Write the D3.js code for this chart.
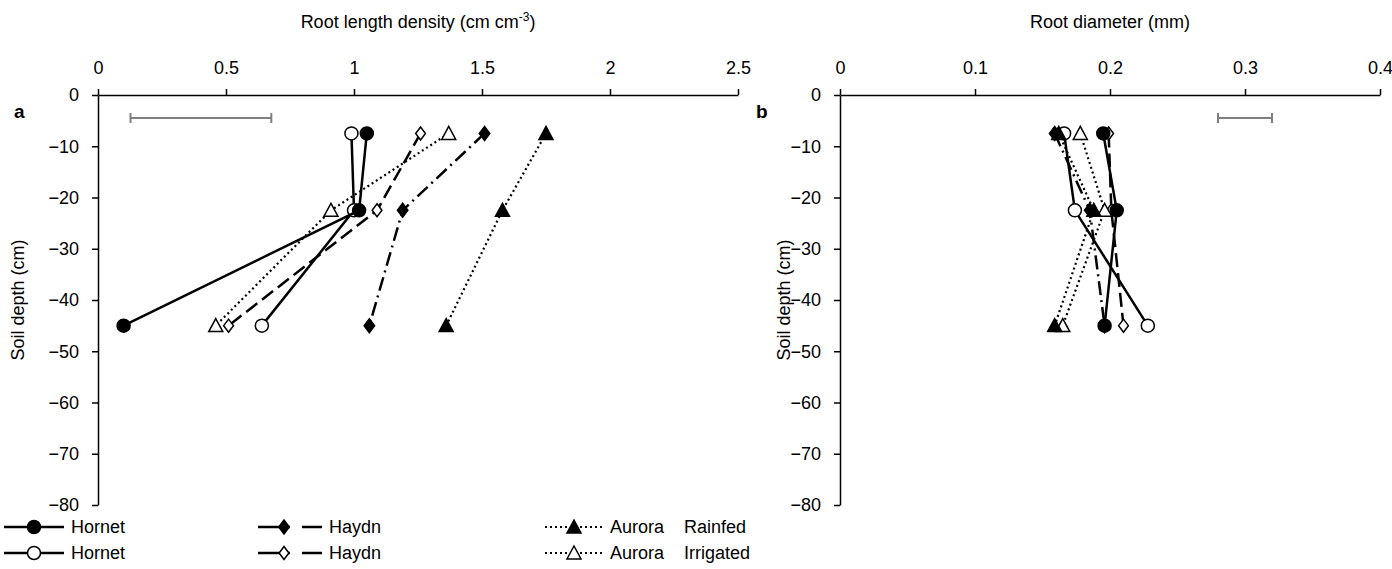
<!DOCTYPE html>
<html>
<head>
<meta charset="utf-8">
<script src="https://cdn.jsdelivr.net/npm/d3@7"></script>
<style>
  body { margin: 0; background: #fff; }
  svg { font-family: "Liberation Sans", Arial, sans-serif; }
  .tick text { font-size: 18px; fill: #000; }
  .domain, .tick line { stroke: #000; stroke-width: 1.5; }
</style>
</head>
<body>
<script>
// soil depth of each sampling layer (cm)
var depths = [-7.5, -22.5, -45];

// root length density, cm cm-3
var rldHornetRainfed    = [1.05, 1.02, 0.10];
var rldHornetIrrigated  = [0.99, 1.00, 0.64];
var rldHaydnRainfed     = [1.51, 1.19, 1.06];
var rldHaydnIrrigated   = [1.26, 1.09, 0.51];
var rldAuroraRainfed    = [1.75, 1.58, 1.36];
var rldAuroraIrrigated  = [1.37, 0.91, 0.46];

// root diameter, mm
var diamHornetRainfed   = [0.195, 0.205, 0.196];
var diamHornetIrrigated = [0.166, 0.174, 0.228];
var diamHaydnRainfed    = [0.159, 0.185, 0.196];
var diamHaydnIrrigated  = [0.199, 0.201, 0.210];
var diamAuroraRainfed   = [0.162, 0.188, 0.159];
var diamAuroraIrrigated = [0.178, 0.196, 0.165];

// LSD bars (from, to) and their depth
var rldLsd = [0.127, 0.677];
var diamLsd = [0.28, 0.32];
var lsdDepth = -4.5;

var rldTicks = [0, 0.5, 1, 1.5, 2, 2.5];
var diamTicks = [0, 0.1, 0.2, 0.3, 0.4];
var depthTicks = [0, -10, -20, -30, -40, -50, -60, -70, -80];

var W = 1392, H = 569;
var svg = d3.select("body").append("svg").attr("width", W).attr("height", H);

var y = d3.scaleLinear().domain([0, -80]).range([95, 505]);
var xA = d3.scaleLinear().domain([0, 2.5]).range([98, 738]);
var xB = d3.scaleLinear().domain([0, 0.4]).range([840, 1380]);

// line style per cultivar
var styles = {
  Hornet: { dash: null, width: 2.5, shape: "circle" },
  HaydnR: { dash: "14,5,2,5", width: 2.5, shape: "diamond" },
  HaydnI: { dash: "14,6", width: 2.5, shape: "diamond" },
  Aurora: { dash: "2,3", width: 2.2, shape: "triangle" }
};

function marker(g, shape, filled, cx, cy) {
  var fill = filled ? "#000" : "#fff";
  if (shape == "circle") {
    g.append("circle").attr("cx", cx).attr("cy", cy).attr("r", 6.5)
      .attr("fill", fill).attr("stroke", "#000").attr("stroke-width", 1.5);
  } else if (shape == "diamond") {
    var s = filled ? 7 : 6.5;
    g.append("path").attr("d", "M"+cx+","+(cy-s)+"L"+(cx+s*0.75)+","+cy+"L"+cx+","+(cy+s)+"L"+(cx-s*0.75)+","+cy+"Z")
      .attr("fill", fill).attr("stroke", "#000").attr("stroke-width", 1.5);
  } else {
    var t = 7;
    g.append("path").attr("d", "M"+cx+","+(cy-t)+"L"+(cx+t)+","+(cy+t*0.85)+"L"+(cx-t)+","+(cy+t*0.85)+"Z")
      .attr("fill", fill).attr("stroke", "#000").attr("stroke-width", 1.5);
  }
}

function series(g, x, vals, st, filled) {
  var pts = vals.map(function(v, i) { return [x(v), y(depths[i])]; });
  g.append("path").attr("d", d3.line()(pts))
    .attr("fill", "none").attr("stroke", "#000")
    .attr("stroke-width", st.width)
    .attr("stroke-dasharray", st.dash);
  pts.forEach(function(p) { marker(g, st.shape, filled, p[0], p[1]); });
}

function panel(x, ticks, title, letter, labelOff, data, lsd) {
  var g = svg.append("g");
  g.append("g").attr("transform", "translate(0," + y(0) + ")")
    .call(d3.axisTop(x).tickValues(ticks).tickSize(6).tickSizeOuter(0).tickPadding(15).tickFormat(d3.format("")));
  g.append("g").attr("transform", "translate(" + x(0) + ",0)")
    .call(d3.axisLeft(y).tickValues(depthTicks).tickSize(6).tickSizeOuter(0).tickPadding(13).tickFormat(d3.format("")));

  var mid = (x.range()[0] + x.range()[1]) / 2;
  g.append("g").html(title).attr("transform", "translate(" + mid + ",28)");
  g.append("text").attr("x", x(0) - 84).attr("y", 118)
    .attr("font-weight", "bold").attr("font-size", 19).text(letter);
  g.append("text").attr("transform", "translate(" + (x(0) - labelOff) + "," + y(-40) + ") rotate(-90)")
    .attr("text-anchor", "middle").attr("font-size", 18).text("Soil depth (cm)");

  // LSD bar
  var ly = y(lsdDepth);
  g.append("path")
    .attr("d", "M" + x(lsd[0]) + "," + (ly-5) + "V" + (ly+5) + "M" + x(lsd[0]) + "," + ly + "H" + x(lsd[1]) + "M" + x(lsd[1]) + "," + (ly-5) + "V" + (ly+5))
    .attr("stroke", "#7f7f7f").attr("stroke-width", 2).attr("fill", "none");

  // irrigated drawn first so rainfed markers sit on top
  series(g, x, data[1], styles.Hornet, false);
  series(g, x, data[3], styles.HaydnI, false);
  series(g, x, data[5], styles.Aurora, false);
  series(g, x, data[0], styles.Hornet, true);
  series(g, x, data[2], styles.HaydnR, true);
  series(g, x, data[4], styles.Aurora, true);
}

panel(xA, rldTicks,
  '<text text-anchor="middle" font-size="18">Root length density (cm cm<tspan dy="-7" font-size="12">-3</tspan><tspan dy="7">)</tspan></text>',
  "a", 74,
  [rldHornetRainfed, rldHornetIrrigated, rldHaydnRainfed, rldHaydnIrrigated, rldAuroraRainfed, rldAuroraIrrigated],
  rldLsd);

panel(xB, diamTicks,
  '<text text-anchor="middle" font-size="18">Root diameter (mm)</text>',
  "b", 50,
  [diamHornetRainfed, diamHornetIrrigated, diamHaydnRainfed, diamHaydnIrrigated, diamAuroraRainfed, diamAuroraIrrigated],
  diamLsd);

// legend
var cultivars = ["Hornet", "Haydn", "Aurora"];
var treatments = ["Rainfed", "Irrigated"];
var legStyles = [styles.Hornet, { dash: "32,12,20", width: 2.5, shape: "diamond" }, styles.Aurora];
var legX = [4, 258, 545];
var legLen = [60, 64, 58];
var legY = [527, 553];
var leg = svg.append("g");
treatments.forEach(function(t, r) {
  cultivars.forEach(function(c, i) {
    var st = legStyles[i], x0 = legX[i], yy = legY[r];
    leg.append("line").attr("x1", x0).attr("x2", x0 + legLen[i]).attr("y1", yy).attr("y2", yy)
      .attr("stroke", "#000").attr("stroke-width", st.width)
      .attr("stroke-dasharray", st.dash);
    marker(leg, st.shape, r == 0, x0 + (i == 1 ? 26 : legLen[i] / 2), yy);
    leg.append("text").attr("x", x0 + legLen[i] + 7).attr("y", yy + 6).attr("font-size", 18).text(c);
  });
  leg.append("text").attr("x", 684).attr("y", legY[r] + 6).attr("font-size", 18).text(t);
});
</script>
</body>
</html>
